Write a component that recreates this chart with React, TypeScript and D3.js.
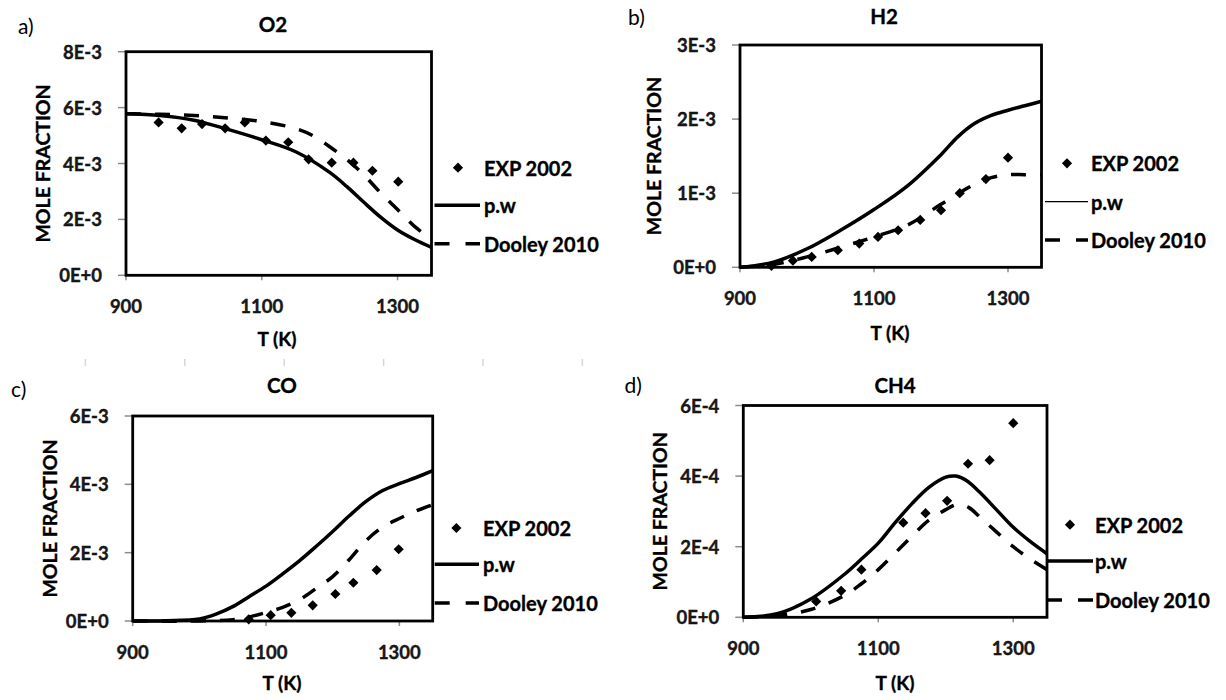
import React from "react";
import * as d3 from "d3";

// ---------- DATA ----------
// O2 (units of 1E-3)
const o2PwT = [900, 950, 1000, 1050, 1100, 1150, 1200, 1225, 1250, 1275, 1300, 1325, 1350];
const o2PwY = [5.78, 5.72, 5.55, 5.22, 4.85, 4.42, 3.68, 3.18, 2.62, 2.08, 1.62, 1.28, 1.0];
const o2DoT = [900, 950, 1000, 1050, 1100, 1150, 1175, 1200, 1225, 1250, 1275, 1300, 1325, 1350];
const o2DoY = [5.78, 5.76, 5.72, 5.63, 5.5, 5.25, 5.0, 4.6, 4.15, 3.6, 2.95, 2.35, 1.75, 1.3];
const o2ExpT = [948, 982, 1012, 1046, 1075, 1106, 1139, 1169, 1203, 1235, 1263, 1301];
const o2ExpY = [5.47, 5.26, 5.41, 5.26, 5.47, 4.82, 4.76, 4.15, 4.03, 4.03, 3.74, 3.35];

// H2 (units of 1E-3)
const h2PwT = [900, 950, 1000, 1050, 1100, 1150, 1200, 1225, 1250, 1275, 1300, 1325, 1350];
const h2PwY = [0, 0.07, 0.25, 0.5, 0.78, 1.1, 1.52, 1.76, 1.94, 2.05, 2.12, 2.18, 2.24];
const h2DoT = [900, 950, 1000, 1050, 1100, 1150, 1200, 1250, 1275, 1300, 1325, 1350];
const h2DoY = [0, 0.04, 0.14, 0.27, 0.41, 0.57, 0.85, 1.12, 1.21, 1.25, 1.25, 1.25];
const h2ExpT = [947, 979, 1007, 1046, 1078, 1106, 1136, 1169, 1200, 1228, 1267, 1300];
const h2ExpY = [0.02, 0.09, 0.14, 0.23, 0.32, 0.41, 0.5, 0.64, 0.77, 1.0, 1.19, 1.48];

// CO (units of 1E-3)
const coPwT = [900, 950, 1000, 1025, 1050, 1075, 1100, 1125, 1150, 1175, 1200, 1225, 1250, 1275, 1300, 1325, 1350];
const coPwY = [0, 0.01, 0.06, 0.2, 0.42, 0.72, 1.02, 1.38, 1.76, 2.18, 2.62, 3.08, 3.5, 3.82, 4.02, 4.2, 4.4];
const coDoT = [900, 1000, 1050, 1075, 1100, 1125, 1150, 1175, 1200, 1225, 1250, 1275, 1300, 1325, 1350];
const coDoY = [0, 0, 0.04, 0.12, 0.25, 0.4, 0.62, 0.95, 1.3, 1.8, 2.35, 2.75, 3.0, 3.22, 3.4];
const coExpT = [1074, 1107, 1138, 1170, 1204, 1231, 1266, 1299];
const coExpY = [0.05, 0.17, 0.24, 0.46, 0.79, 1.12, 1.49, 2.1];

// CH4 (units of 1E-4)
const ch4PwT = [900, 950, 1000, 1050, 1075, 1100, 1125, 1150, 1175, 1200, 1215, 1230, 1250, 1275, 1300, 1325, 1350];
const ch4PwY = [0, 0.1, 0.52, 1.22, 1.65, 2.1, 2.68, 3.22, 3.68, 3.97, 4.0, 3.88, 3.55, 3.05, 2.55, 2.15, 1.8];
const ch4DoT = [900, 950, 1000, 1050, 1075, 1100, 1125, 1150, 1175, 1200, 1218, 1235, 1250, 1275, 1300, 1325, 1350];
const ch4DoY = [0, 0.05, 0.22, 0.62, 0.95, 1.35, 1.82, 2.3, 2.75, 3.05, 3.2, 3.1, 2.85, 2.42, 2.0, 1.65, 1.35];
const ch4ExpT = [1008, 1045, 1075, 1137, 1170, 1202, 1233, 1265, 1300];
const ch4ExpY = [0.45, 0.75, 1.35, 2.68, 2.95, 3.3, 4.35, 4.45, 5.5];

// Axes
const xDomain = [900, 1350];
const xTicks = [900, 1100, 1300];
const o2TickLabels = ["0E+0", "2E-3", "4E-3", "6E-3", "8E-3"];
const h2TickLabels = ["0E+0", "1E-3", "2E-3", "3E-3"];
const coTickLabels = ["0E+0", "2E-3", "4E-3", "6E-3"];
const ch4TickLabels = ["0E+0", "2E-4", "4E-4", "6E-4"];
const o2TickVals = [0, 2, 4, 6, 8];
const h2TickVals = [0, 1, 2, 3];
const coTickVals = [0, 2, 4, 6];
const ch4TickVals = [0, 2, 4, 6];

const legendLabels = ["EXP 2002", "p.w", "Dooley 2010"];
const panelLetters = ["a)", "b)", "c)", "d)"];
const panelTitles = ["O2", "H2", "CO", "CH4"];
const xTitle = "T (K)";
const yTitle = "MOLE FRACTION";

// ---------- LAYOUT ----------
type Panel = {
  box: { l: number; r: number; t: number; b: number };
  letter: [number, number];
  title: [number, number];
  xTitle: [number, number];
  yTitleX: number;
  legend: { dx: number; tx: number; y0: number; y1: number; y2: number; l0: number; l1: number; thinPw?: boolean };
};

const layouts: Panel[] = [
  {
    box: { l: 126, r: 431.5, t: 51.7, b: 275.3 },
    letter: [18, 25],
    title: [273, 24],
    xTitle: [277, 338],
    yTitleX: 42,
    legend: { dx: 458, tx: 484, y0: 167.7, y1: 205.3, y2: 243.7, l0: 434.5, l1: 480 },
  },
  {
    box: { l: 740, r: 1041.5, t: 45, b: 267.3 },
    letter: [628, 16],
    title: [884, 16],
    xTitle: [890, 332],
    yTitleX: 653,
    legend: { dx: 1067, tx: 1091, y0: 163.3, y1: 201.7, y2: 240, l0: 1045, l1: 1088, thinPw: true },
  },
  {
    box: { l: 132.7, r: 432.7, t: 416, b: 621 },
    letter: [11, 388],
    title: [282, 384.5],
    xTitle: [282, 682],
    yTitleX: 49,
    legend: { dx: 456.4, tx: 483, y0: 528, y1: 564.2, y2: 603, l0: 434.7, l1: 479 },
  },
  {
    box: { l: 743.3, r: 1047, t: 405.5, b: 617.3 },
    letter: [624.5, 384],
    title: [895, 384.5],
    xTitle: [895, 682],
    yTitleX: 659,
    legend: { dx: 1070, tx: 1095, y0: 524.7, y1: 561, y2: 600, l0: 1047, l1: 1093 },
  },
];

const series = [
  { pw: [o2PwT, o2PwY], doo: [o2DoT, o2DoY], exp: [o2ExpT, o2ExpY], ticks: o2TickVals, labels: o2TickLabels },
  { pw: [h2PwT, h2PwY], doo: [h2DoT, h2DoY], exp: [h2ExpT, h2ExpY], ticks: h2TickVals, labels: h2TickLabels },
  { pw: [coPwT, coPwY], doo: [coDoT, coDoY], exp: [coExpT, coExpY], ticks: coTickVals, labels: coTickLabels },
  { pw: [ch4PwT, ch4PwY], doo: [ch4DoT, ch4DoY], exp: [ch4ExpT, ch4ExpY], ticks: ch4TickVals, labels: ch4TickLabels },
];

const FONT = "Lato, 'Open Sans', sans-serif";
const diamond = d3.symbol().type(d3.symbolSquare).size(52)();
const boldText = { fontFamily: FONT, fontWeight: 700, stroke: "#000", strokeWidth: 0.35 } as const;

function ChartPanel({ idx }: { idx: number }) {
  const L = layouts[idx];
  const S = series[idx];
  const x = d3.scaleLinear().domain(xDomain).range([L.box.l, L.box.r]);
  const yMax = S.ticks[S.ticks.length - 1];
  const y = d3.scaleLinear().domain([0, yMax]).range([L.box.b, L.box.t]);
  const line = d3
    .line<[number, number]>()
    .x((d) => x(d[0]))
    .y((d) => y(d[1]))
    .curve(d3.curveCatmullRom.alpha(0.5));
  const zip = (a: number[][]) => a[0].map((t, i) => [t, a[1][i]] as [number, number]);
  const pwPath = line(zip(S.pw)) || "";
  const doPath = line(zip(S.doo)) || "";
  const pts = zip(S.exp);
  const cy = (L.box.t + L.box.b) / 2;
  const clipId = `clip${idx}`;
  return (
    <g>
      <defs>
        <clipPath id={clipId}>
          <rect x={L.box.l} y={L.box.t - 2} width={L.box.r - L.box.l} height={L.box.b - L.box.t + 4} />
        </clipPath>
      </defs>
      {/* y ticks */}
      {S.ticks.map((v, i) => (
        <g key={"yt" + i}>
          <line x1={L.box.l - 8} x2={L.box.l} y1={y(v)} y2={y(v)} stroke="#8c8c8c" strokeWidth={1.5} />
          <text
            x={L.box.l - 24}
            y={y(v)}
            textAnchor="end"
            dominantBaseline="central"
            {...boldText}
            fontSize={18.5}
            fill="#1a1a1a"
          >
            {S.labels[i]}
          </text>
        </g>
      ))}
      {/* x ticks */}
      {xTicks.map((v) => (
        <g key={"xt" + v}>
          <line x1={x(v)} x2={x(v)} y1={L.box.b} y2={L.box.b + 5} stroke="#8c8c8c" strokeWidth={1.5} />
          <text
            x={x(v)}
            y={L.box.b + 31}
            textAnchor="middle"
            dominantBaseline="central"
            {...boldText}
            fontSize={18.5}
            fill="#1a1a1a"
          >
            {v}
          </text>
        </g>
      ))}
      {/* curves */}
      <g clipPath={`url(#${clipId})`}>
        <path d={doPath} fill="none" stroke="#000" strokeWidth={3.5} strokeDasharray="15,14" />
        <path d={pwPath} fill="none" stroke="#000" strokeWidth={3.5} />
      </g>
      {pts.map((p, i) => (
        <path key={"p" + i} d={diamond} transform={`translate(${x(p[0])},${y(p[1])}) rotate(45)`} fill="#000" />
      ))}
      {/* box */}
      <rect
        x={L.box.l}
        y={L.box.t}
        width={L.box.r - L.box.l}
        height={L.box.b - L.box.t}
        fill="none"
        stroke="#000"
        strokeWidth={2.8}
      />
      {/* labels */}
      <text x={L.letter[0]} y={L.letter[1]} dominantBaseline="central" fontFamily={FONT} fontSize={21} fill="#000">
        {panelLetters[idx]}
      </text>
      <text
        x={L.title[0]}
        y={L.title[1]}
        textAnchor="middle"
        dominantBaseline="central"
        {...boldText}
        fontSize={20.5}
        fill="#000"
      >
        {panelTitles[idx]}
      </text>
      <text
        x={L.xTitle[0]}
        y={L.xTitle[1]}
        textAnchor="middle"
        dominantBaseline="central"
        {...boldText}
        fontSize={19}
        fill="#000"
      >
        {xTitle}
      </text>
      <text
        transform={`translate(${L.yTitleX},${cy}) rotate(-90)`}
        textAnchor="middle"
        dominantBaseline="central"
        {...boldText}
        fontSize={19.5}
        fill="#000"
      >
        {yTitle}
      </text>
      {/* legend */}
      <path d={diamond} transform={`translate(${L.legend.dx},${L.legend.y0}) rotate(45)`} fill="#000" />
      <line
        x1={L.legend.l0}
        x2={L.legend.l1}
        y1={L.legend.y1}
        y2={L.legend.y1}
        stroke="#000"
        strokeWidth={L.legend.thinPw ? 1.3 : 3.5}
      />
      <line
        x1={L.legend.l0}
        x2={L.legend.l1}
        y1={L.legend.y2}
        y2={L.legend.y2}
        stroke="#000"
        strokeWidth={3.5}
        strokeDasharray="15,16"
      />
      {[L.legend.y0, L.legend.y1, L.legend.y2].map((yy, i) => (
        <text
          key={"lg" + i}
          x={L.legend.tx}
          y={yy}
          dominantBaseline="central"
          {...boldText}
          fontSize={20}
          fill="#000"
        >
          {legendLabels[i]}
        </text>
      ))}
    </g>
  );
}

export default function App() {
  const marks = d3.range(6);
  return (
    <svg
      width={1226}
      height={700}
      style={{ position: "absolute", left: 0, top: 0, background: "#fff" }}
      xmlns="http://www.w3.org/2000/svg"
    >
      <rect x={0} y={0} width={1226} height={700} fill="#fff" />
      {marks.map((i) => (
        <line key={"m" + i} x1={85.4 + i * 99.4} x2={85.4 + i * 99.4} y1={359} y2={366} stroke="#d6d6d6" strokeWidth={1.5} />
      ))}
      {[0, 1, 2, 3].map((i) => (
        <ChartPanel key={i} idx={i} />
      ))}
    </svg>
  );
}
